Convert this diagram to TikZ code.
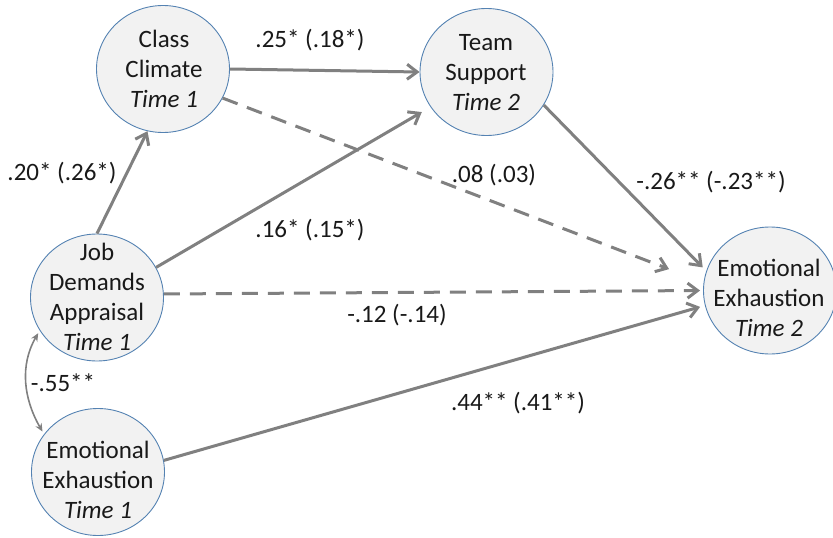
\documentclass[tikz,border=0pt]{standalone}
\usepackage{fontspec}
\setmainfont{Carlito}
\usetikzlibrary{arrows.meta,shapes.geometric}
\definecolor{linegray}{RGB}{128,128,128}
\definecolor{circblue}{RGB}{84,130,178}
\definecolor{circfill}{RGB}{242,242,242}
\definecolor{txt}{RGB}{25,25,25}
\begin{document}
\begin{tikzpicture}[x=1pt,y=-1pt,
  var/.style={ellipse, draw=circblue, fill=circfill, line width=0.9pt, minimum width=133pt, minimum height=127pt, inner sep=0pt},
  vtext/.style={font=\fontsize{25}{30}\selectfont, text=txt, align=center, inner sep=0pt},
  lbl/.style={font=\fontsize{25}{30}\selectfont, text=txt, inner sep=0pt},
  arr/.style={draw=linegray, line width=3pt, -{Straight Barb[length=10pt,width=15pt]}},
  dsh/.style={arr, dash pattern=on 16pt off 10pt},
  dbl/.style={draw=linegray, line width=1.6pt, {Stealth[length=8pt,width=7pt]}-{Stealth[length=8pt,width=7pt]}}]
\useasboundingbox (0,0) rectangle (833,538);

% circles
\node[var] (cc) at (163,69) {};
\node[var] (ts) at (486.5,72) {};
\node[var] (jd) at (97,297.5) {};
\node[var] (ee1) at (98,472) {};
\node[var] (ee2) at (770,290.5) {};

% node texts
\node[vtext] (cct) at (164,69) {Class\\Climate\\\textit{Time 1}};
\node[vtext] (tst) at (486,73) {Team\\Support\\\textit{Time 2}};
\node[vtext] (jdt) at (97,297) {Job\\Demands\\Appraisal\\\textit{Time 1}};
\node[vtext] (ee1t) at (98,480) {Emotional\\Exhaustion\\\textit{Time 1}};
\node[vtext] (ee2t) at (769,298) {Emotional\\Exhaustion\\\textit{Time 2}};

% connectors
\draw[arr] (cc.east) -- (ts.west);
\draw[arr] (jd.north) -- (cc.256);
\draw[arr, shorten >=10pt] (jd.27) -- (ts.212);
\draw[dsh, shorten >=37pt] (cc.334) -- (ee2.173.5);
\draw[dsh, shorten >=3pt] (jd.3) -- (ee2.west);
\draw[arr, shorten >=5pt] (ee1.10) -- (ee2.193);
\draw[arr, shorten >=5pt] (ts.330) -- (ee2.163);
\draw[dbl, shorten <=3pt, shorten >=3pt] (jd.210) to[out=240, in=120] (ee1.145);

% labels
\node[lbl] (l1) at (310,40) {.25* (.18*)};
\node[lbl] (l2) at (62,173) {.20* (.26*)};
\node[lbl] (l3) at (310,230) {.16* (.15*)};
\node[lbl] (l4) at (494,175) {.08 (.03)};
\node[lbl] (l5) at (711,182) {-.26** (-.23**)};
\node[lbl] (l6) at (397,315) {-.12 (-.14)};
\node[lbl] (l7) at (518,403) {.44** (.41**)};
\node[lbl] (l8) at (63,383) {-.55**};
\end{tikzpicture}
\end{document}
